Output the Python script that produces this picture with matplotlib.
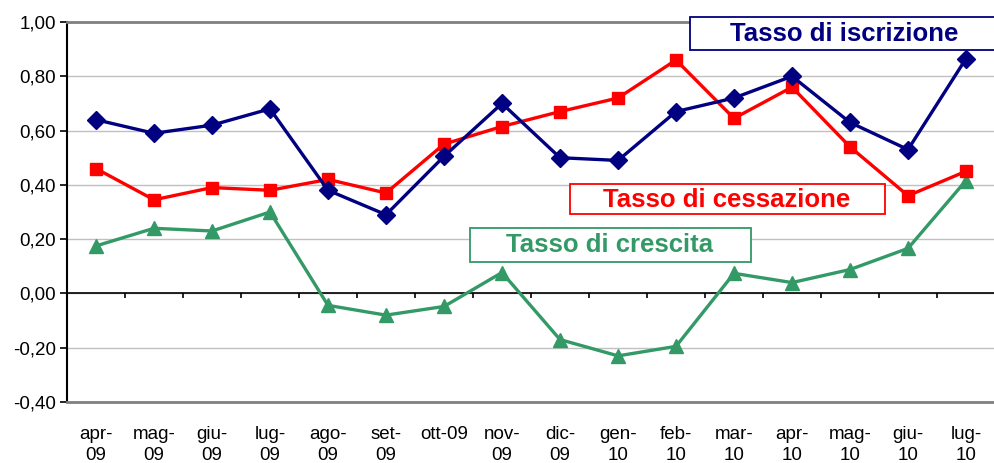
import matplotlib
matplotlib.use("Agg")
import matplotlib.pyplot as plt
from matplotlib.patches import Rectangle
from matplotlib.ticker import FuncFormatter
import numpy as np

plt.rcParams['font.family'] = ['Liberation Sans', 'DejaVu Sans']

mesi = ['apr-\n09', 'mag-\n09', 'giu-\n09', 'lug-\n09', 'ago-\n09', 'set-\n09', 'ott-09',
        'nov-\n09', 'dic-\n09', 'gen-\n10', 'feb-\n10', 'mar-\n10', 'apr-\n10', 'mag-\n10',
        'giu-\n10', 'lug-\n10']
iscrizione = [0.64, 0.59, 0.62, 0.68, 0.38, 0.29, 0.505, 0.70, 0.50, 0.49, 0.67, 0.72,
              0.80, 0.63, 0.53, 0.865]
cessazione = [0.46, 0.345, 0.39, 0.38, 0.42, 0.37, 0.55, 0.615, 0.67, 0.72, 0.86, 0.645,
              0.76, 0.54, 0.36, 0.45]
crescita = [0.175, 0.24, 0.23, 0.30, -0.044, -0.08, -0.048, 0.077, -0.17, -0.23, -0.195,
            0.074, 0.04, 0.088, 0.166, 0.416]

BLU = '#000080'
ROSSO = '#FF0000'
VERDE = '#339966'

W, H = 994, 463
fig = plt.figure(figsize=(W / 100, H / 100), dpi=100)
ax = fig.add_axes([67 / W, (H - 402) / H, (995 - 67) / W, 380 / H])

x = np.arange(len(mesi))
ax.plot(x, iscrizione, color=BLU, lw=2.4, marker='D', ms=9, zorder=5)
ax.plot(x, cessazione, color=ROSSO, lw=2.4, marker='s', ms=9, zorder=4)
ax.plot(x, crescita, color=VERDE, lw=2.4, marker='^', ms=9.5, zorder=3)

ax.set_xlim(-0.5, len(mesi) - 0.5)
ax.set_ylim(-0.4, 1.0)
ax.set_yticks(np.arange(-0.4, 1.01, 0.2))
ax.yaxis.set_major_formatter(FuncFormatter(lambda v, p: f'{v:.2f}'.replace('.', ',')))
ax.grid(axis='y', color='#c0c0c0', lw=1)
ax.set_axisbelow(True)

# asse delle x sullo zero con tacche tra le categorie
ax.axhline(0, color='black', lw=1.2, zorder=2)
ax.vlines(x[:-1] + 0.5, -0.018, 0, color='black', lw=1.2, zorder=2)

ax.set_xticks(x)
ax.set_xticklabels(mesi, linespacing=1.3, va='top')
ax.tick_params(axis='x', length=0, pad=17, labelsize=13.5)
ax.tick_params(axis='y', direction='out', length=5, width=1.2, labelsize=13.5, pad=3)

for s in ['top', 'bottom']:
    ax.spines[s].set_color('#808080')
    ax.spines[s].set_linewidth(2)
ax.spines['right'].set_visible(False)
ax.spines['left'].set_color('black')
ax.spines['left'].set_linewidth(1.5)

# etichette delle serie in riquadri
etichette = [
    ('Tasso di iscrizione', BLU, (690, 17, 320, 33), 844, 34),
    ('Tasso di cessazione', ROSSO, (570, 184, 315, 30), 727, 200),
    ('Tasso di crescita', VERDE, (470, 228, 281, 34), 610, 245),
]
for testo, col, (bx, by, bw, bh), tx, ty in etichette:
    fig.patches.append(Rectangle((bx / W, 1 - (by + bh) / H), bw / W, bh / H,
                                 transform=fig.transFigure, facecolor='white',
                                 edgecolor=col, lw=1.3, zorder=10))
    fig.text(tx / W, 1 - ty / H, testo, color=col, fontsize=18.5, fontweight='bold',
             ha='center', va='center', zorder=11)

fig.savefig('out.png', dpi=100)
